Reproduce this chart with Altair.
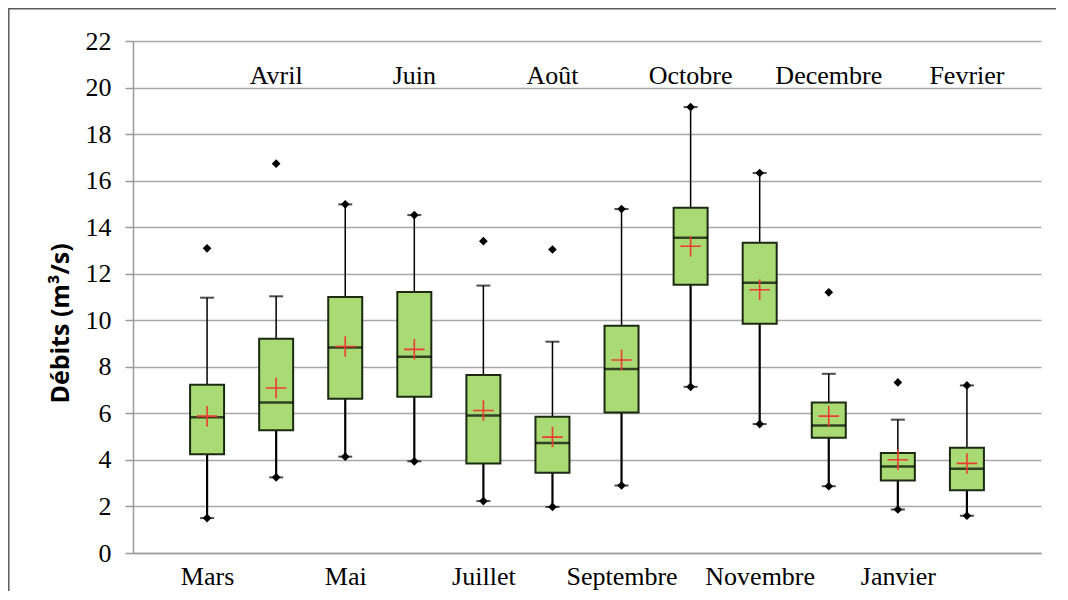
import altair as alt
import pandas as pd

months = ["Mars", "Avril", "Mai", "Juin", "Juillet", "Août", "Septembre",
          "Octobre", "Novembre", "Decembre", "Janvier", "Fevrier"]
whisk_lo = [1.50, 3.25, 4.14, 3.94, 2.23, 1.98, 2.90, 7.14, 5.54, 2.87, 1.87, 1.60]
q1 = [4.24, 5.27, 6.63, 6.71, 3.85, 3.45, 6.04, 11.53, 9.85, 4.95, 3.12, 2.70]
median = [5.83, 6.47, 8.83, 8.43, 5.91, 4.73, 7.91, 13.55, 11.61, 5.48, 3.72, 3.62]
q3 = [7.23, 9.21, 11.00, 11.21, 7.65, 5.85, 9.76, 14.84, 13.33, 6.47, 4.30, 4.52]
whisk_hi = [10.97, 11.03, 14.98, 14.52, 11.49, 9.08, 14.78, 19.16, 16.33, 7.70, 5.73, 7.20]
mean = [5.88, 7.09, 8.87, 8.75, 6.12, 4.98, 8.29, 13.18, 11.31, 5.88, 4.01, 3.85]
outlier = [13.09, 16.73, None, None, 13.40, 13.04, None, None, None, 11.20, 7.33, None]

idx = list(range(1, len(months) + 1))
df = pd.DataFrame({"x": idx, "month": months, "lo": whisk_lo, "q1": q1,
                   "med": median, "q3": q3, "hi": whisk_hi, "mean": mean})

# min / max points (diamonds)
pts_x, pts_y = [], []
for i, m in enumerate(idx):
    pts_x.append(m); pts_y.append(whisk_lo[i])
    if outlier[i] is None:
        pts_x.append(m); pts_y.append(whisk_hi[i])
    else:
        pts_x.append(m); pts_y.append(outlier[i])
pts = pd.DataFrame({"x": pts_x, "y": pts_y})

# month labels: odd at bottom (axis), even at top (text)
top = pd.DataFrame({"x": idx[1::2], "month": months[1::2], "y": [20.5] * 6})
label_arr = "[''," + ",".join("'" + m + "'" for m in months) + "]"

SERIF = "Liberation Serif"

xscale = alt.Scale(domain=[0, 13], nice=False, zero=False)
yscale = alt.Scale(domain=[0, 22], nice=False)

xenc = alt.X("x:Q", scale=xscale, axis=alt.Axis(
    values=idx[0::2], labelExpr=label_arr + "[datum.value]", grid=False,
    ticks=False, tickSize=0, labelPadding=10, labelFont=SERIF,
    labelFontSize=26, labelColor="black", domainColor="#9a9a9a",
    domainWidth=1.5, title=None, labelFlush=False))

base = alt.Chart(df)

whisk_low = base.mark_rule(color="black", strokeWidth=2.2).encode(
    x=xenc,
    y=alt.Y("lo:Q", scale=yscale, axis=alt.Axis(
        values=list(range(0, 23, 2)), grid=True, gridColor="#a8a8a8",
        gridWidth=1.5, tickSize=8, tickColor="#9a9a9a", tickWidth=1.5,
        domainColor="#9a9a9a", domainWidth=1.5, labelPadding=14,
        labelFont=SERIF, labelFontSize=26, labelColor="black",
        title="Débits (m³/s)", titleFont="Open Sans", titleFontWeight="bold",
        titleFontSize=25, titleColor="black", titleAngle=-90,
        titleX=-73, titleY=282, titleAlign="center", titleBaseline="middle")),
    y2="q1:Q")
whisk_up = base.mark_rule(color="black", strokeWidth=1.5).encode(
    x="x:Q", y="q3:Q", y2="hi:Q")
cap_lo = base.mark_tick(orient="horizontal", size=14, thickness=2,
                        color="black").encode(x="x:Q", y="lo:Q")
cap_hi = base.mark_tick(orient="horizontal", size=14, thickness=2,
                        color="black").encode(x="x:Q", y="hi:Q")
boxes = base.mark_bar(size=34, color="#a9da74", stroke="#1c2a12",
                      strokeWidth=2).encode(x="x:Q", y="q1:Q", y2="q3:Q")
meds = base.mark_tick(orient="horizontal", size=34, thickness=2.5,
                      color="black").encode(x="x:Q", y="med:Q")
means = base.mark_point(shape="M-1,0L1,0M0,-1L0,1", size=420, filled=False,
                        color="#ee3b2f", strokeWidth=1.6, opacity=1).encode(
    x="x:Q", y="mean:Q")
diam = alt.Chart(pts).mark_point(shape="diamond", size=75, filled=True,
                                 color="black", opacity=1).encode(
    x="x:Q", y="y:Q")
toplab = alt.Chart(top).mark_text(font=SERIF, fontSize=26, color="black",
                                  baseline="middle", align="center").encode(
    x="x:Q", y="y:Q", text="month:N")

# outer frame of the figure (only its top and left edges fall inside the page)
frame = alt.Chart(pd.DataFrame({"f": [0]})).mark_rect(
    fill=None, fillOpacity=0, stroke="#5a5a5a", strokeWidth=1.5).encode(
    x=alt.value(-124.2), x2=alt.value(1200),
    y=alt.value(-32.2), y2=alt.value(900))

chart = alt.layer(
    whisk_low, whisk_up, cap_lo, cap_hi, boxes, meds, means, diam, toplab,
    frame
).properties(
    width=908, height=512,
    autosize=alt.AutoSizeParams(type="none"),
    padding={"left": 125, "top": 33, "right": 15, "bottom": 38},
    background="white",
).configure_view(stroke=None)

chart.save("out.html", embed_options={"renderer": "svg", "actions": False})
